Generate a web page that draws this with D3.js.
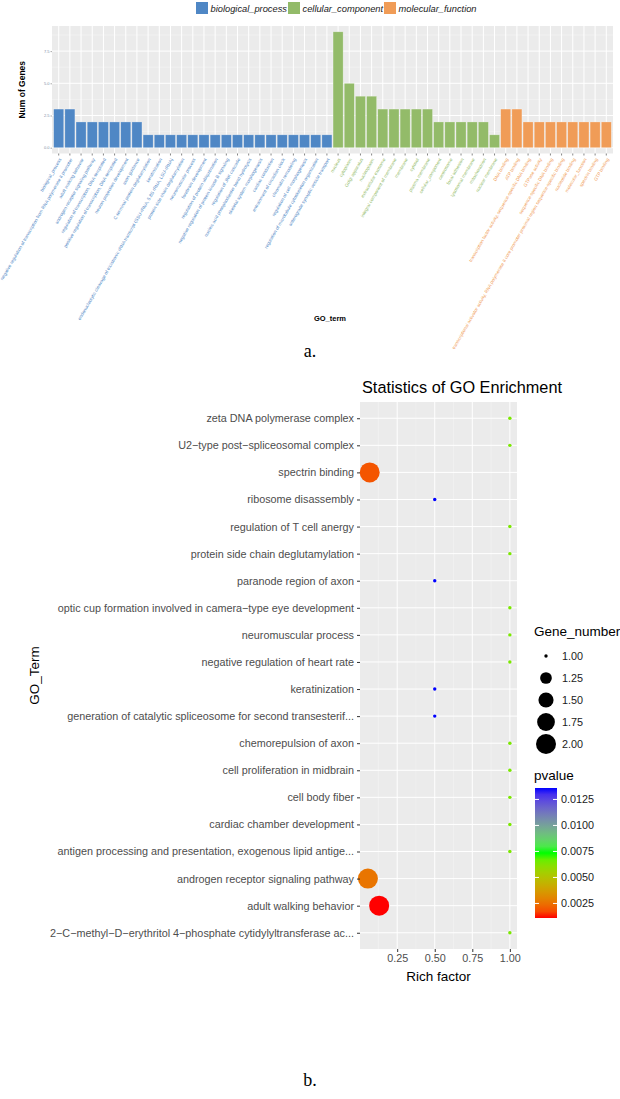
<!DOCTYPE html>
<html>
<head>
<meta charset="utf-8">
<script src="https://cdn.jsdelivr.net/npm/d3@7"></script>
<style>
  body { margin: 0; background: #fff; }
  svg { display: block; font-family: "Liberation Sans", Arial, sans-serif; }
</style>
</head>
<body>
<svg width="620" height="1099"></svg>
<script>
// ---- panel a data ----
const goTerms = [
  "biological_process",
  "negative regulation of transcription from RNA polymerase II promoter",
  "adult walking behavior",
  "androgen receptor signaling pathway",
  "regulation of transcription, DNA-templated",
  "positive regulation of transcription, DNA-templated",
  "neuron projection development",
  "axon guidance",
  "C-terminal protein deglutamylation",
  "keratinization",
  "endonucleolytic cleavage of tricistronic rRNA transcript (SSU-rRNA, 5.8S rRNA, LSU-rRNA)",
  "protein side chain deglutamylation",
  "neuromuscular process",
  "forebrain development",
  "regulation of protein ubiquitination",
  "negative regulation of protein kinase B signaling",
  "regulation of JNK cascade",
  "nucleic acid phosphodiester bond hydrolysis",
  "skeletal system morphogenesis",
  "cardiac conduction",
  "entrainment of circadian clock",
  "chromatin remodeling",
  "regulation of cell morphogenesis",
  "regulation of microtubule cytoskeleton organization",
  "anterograde synaptic vesicle transport",
  "nucleus",
  "cytoplasm",
  "Golgi apparatus",
  "nucleoplasm",
  "extracellular exosome",
  "integral component of membrane",
  "membrane",
  "cytosol",
  "plasma membrane",
  "cellular_component",
  "centrosome",
  "focal adhesion",
  "lysosomal membrane",
  "mitochondrion",
  "nuclear membrane",
  "DNA binding",
  "ATP binding",
  "transcription factor activity, sequence-specific DNA binding",
  "GTPase activity",
  "sequence-specific DNA binding",
  "transcriptional activator activity, RNA polymerase II core promoter proximal region sequence-specific binding",
  "nucleotide binding",
  "molecular_function",
  "spectrin binding",
  "GTP binding"
];
const geneCounts = [
  3, 3, 2, 2, 2, 2, 2, 2, 1, 1, 1, 1, 1, 1, 1, 1, 1, 1, 1, 1, 1, 1, 1, 1, 1,
  9, 5, 4, 4, 3, 3, 3, 3, 3, 2, 2, 2, 2, 2, 1,
  3, 3, 2, 2, 2, 2, 2, 2, 2, 2
];
const ontology = [].concat(
  Array(25).fill("biological_process"),
  Array(15).fill("cellular_component"),
  Array(10).fill("molecular_function")
);
const ontologyNames = ["biological_process", "cellular_component", "molecular_function"];
const ontologyColors = ["#4F87C5", "#93BB69", "#F09C57"];
const yTicksA = [0, 2.5, 5, 7.5];

// ---- panel b data ----
const enrichTerms = [
  "zeta DNA polymerase complex",
  "U2\u2212type post\u2212spliceosomal complex",
  "spectrin binding",
  "ribosome disassembly",
  "regulation of T cell anergy",
  "protein side chain deglutamylation",
  "paranode region of axon",
  "optic cup formation involved in camera\u2212type eye development",
  "neuromuscular process",
  "negative regulation of heart rate",
  "keratinization",
  "generation of catalytic spliceosome for second transesterif...",
  "chemorepulsion of axon",
  "cell proliferation in midbrain",
  "cell body fiber",
  "cardiac chamber development",
  "antigen processing and presentation, exogenous lipid antige...",
  "androgen receptor signaling pathway",
  "adult walking behavior",
  "2\u2212C\u2212methyl\u2212D\u2212erythritol 4\u2212phosphate cytidylyltransferase ac..."
];
const richFactor = [1, 1, 0.067, 0.5, 1, 1, 0.5, 1, 1, 1, 0.5, 0.5, 1, 1, 1, 1, 1, 0.055, 0.13, 1];
const geneNumber = [1, 1, 2, 1, 1, 1, 1, 1, 1, 1, 1, 1, 1, 1, 1, 1, 1, 2, 2, 1];
const pValue = [0.0064, 0.0064, 0.0019, 0.0136, 0.0064, 0.0064, 0.0136, 0.0064, 0.0064, 0.0064,
                0.0136, 0.0136, 0.0064, 0.0064, 0.0064, 0.0064, 0.0064, 0.0026, 0.0011, 0.0064];
const xTicksB = [0.25, 0.5, 0.75, 1.0];
const sizeBreaks = [1.00, 1.25, 1.50, 1.75, 2.00];
const pBreaks = [0.0025, 0.005, 0.0075, 0.01, 0.0125];

const svg = d3.select("svg");

// =================== panel a ===================
const pa = {left: 52, right: 613, top: 26, bottom: 153.5};
const gA = svg.append("g");

const xA = d3.scaleBand()
  .domain(goTerms)
  .range([pa.left, pa.right])
  .paddingInner(0.1)
  .paddingOuter(0.15);
const yA = d3.scaleLinear().domain([-0.45, 9.45]).range([pa.bottom, pa.top]);
const colA = d3.scaleOrdinal().domain(ontologyNames).range(ontologyColors);

gA.append("rect")
  .attr("x", pa.left).attr("y", pa.top)
  .attr("width", pa.right - pa.left).attr("height", pa.bottom - pa.top)
  .attr("fill", "#EBEBEB");

// minor + major grid
const minorA = [1.25, 3.75, 6.25, 8.75];
gA.selectAll(".minA").data(minorA).enter().append("line")
  .attr("x1", pa.left).attr("x2", pa.right)
  .attr("y1", d => yA(d)).attr("y2", d => yA(d))
  .attr("stroke", "#F5F5F5").attr("stroke-width", 0.5);
gA.selectAll(".majA").data(yTicksA).enter().append("line")
  .attr("x1", pa.left).attr("x2", pa.right)
  .attr("y1", d => yA(d)).attr("y2", d => yA(d))
  .attr("stroke", "#fff").attr("stroke-width", 1);
gA.selectAll(".vgA").data(goTerms).enter().append("line")
  .attr("x1", d => xA(d) + xA.bandwidth() / 2).attr("x2", d => xA(d) + xA.bandwidth() / 2)
  .attr("y1", pa.top).attr("y2", pa.bottom)
  .attr("stroke", "#fff").attr("stroke-width", 1);

// bars
gA.selectAll(".bar").data(goTerms).enter().append("rect")
  .attr("x", d => xA(d))
  .attr("width", xA.bandwidth())
  .attr("y", (d, i) => yA(geneCounts[i]))
  .attr("height", (d, i) => yA(0) - yA(geneCounts[i]))
  .attr("fill", (d, i) => colA(ontology[i]))
  .attr("stroke", "rgba(255,255,255,0.45)")
  .attr("stroke-width", 0.6);

// y axis
const yAxisA = gA.append("g")
  .attr("transform", `translate(${pa.left},0)`)
  .call(d3.axisLeft(yA).tickValues(yTicksA).tickFormat(d3.format(".1f")).tickSize(1.5).tickPadding(1));
yAxisA.select(".domain").remove();
yAxisA.selectAll("line").attr("stroke", "#555").attr("stroke-width", 0.5);
yAxisA.selectAll("text").attr("font-size", 4).attr("fill", "#7D8FA6").attr("font-family", "Liberation Sans, Arial, sans-serif");

// x axis ticks
const xAxisA = gA.append("g")
  .attr("transform", `translate(0,${pa.bottom})`)
  .call(d3.axisBottom(xA).tickSize(2).tickFormat(""));
xAxisA.select(".domain").remove();
xAxisA.selectAll("line").attr("stroke", "#333").attr("stroke-width", 0.6);

gA.selectAll(".xlabA").data(goTerms).enter().append("text")
  .attr("transform", d => `translate(${xA(d) + xA.bandwidth() / 2 + 1.5},${pa.bottom + 5}) rotate(-60)`)
  .attr("text-anchor", "end")
  .attr("dy", "0.35em")
  .attr("font-size", 4.6)
  .attr("fill", (d, i) => colA(ontology[i]))
  .text(d => d);

gA.append("text")
  .attr("transform", `translate(25,${(pa.top + pa.bottom) / 2}) rotate(-90)`)
  .attr("text-anchor", "middle")
  .attr("font-size", 8.5).attr("font-weight", "bold")
  .text("Num of Genes");

gA.append("text")
  .attr("x", 330).attr("y", 321)
  .attr("text-anchor", "middle")
  .attr("font-size", 7.5).attr("font-weight", "bold")
  .text("GO_term");

// legend
const legX = [196, 288, 384];
const legA = gA.selectAll(".legA").data(ontologyNames).enter().append("g")
  .attr("transform", (d, i) => `translate(${legX[i]},2)`);
legA.append("rect").attr("width", 12).attr("height", 12).attr("fill", d => colA(d));
legA.append("text")
  .attr("x", 14.5).attr("y", 9.5)
  .attr("font-size", 9.3).attr("font-style", "italic").attr("fill", "#222")
  .text(d => d);

svg.append("text")
  .attr("x", 310).attr("y", 357)
  .attr("text-anchor", "middle")
  .attr("font-family", "Liberation Serif, Times New Roman, serif")
  .attr("font-size", 18)
  .text("a.");

// =================== panel b ===================
const pb = {left: 360, right: 517, top: 402, bottom: 949};
const gB = svg.append("g");

const xB = d3.scaleLinear().domain([0.0025, 1.0475]).range([pb.left, pb.right]);
const yB = d3.scalePoint().domain(enrichTerms).range([pb.top, pb.bottom]).padding(0.6);
// ggplot-like area scaling between the smallest and largest dot
const rScale = v => 1.7 + (10 - 1.7) * Math.sqrt(v - 1);
const pExt = [0.0011, 0.0136];
const colB = d3.scaleLinear()
  .domain([pExt[0], (pExt[0] + pExt[1]) / 2, pExt[1]])
  .range(["#FF0000", "#00FF00", "#0000FF"])
  .interpolate(d3.interpolateLab);

gB.append("rect")
  .attr("x", pb.left).attr("y", pb.top)
  .attr("width", pb.right - pb.left).attr("height", pb.bottom - pb.top)
  .attr("fill", "#EBEBEB");

const minorB = [0.125, 0.375, 0.625, 0.875];
gB.selectAll(".minB").data(minorB).enter().append("line")
  .attr("x1", d => xB(d)).attr("x2", d => xB(d))
  .attr("y1", pb.top).attr("y2", pb.bottom)
  .attr("stroke", "#F5F5F5").attr("stroke-width", 0.5);
gB.selectAll(".majB").data(xTicksB).enter().append("line")
  .attr("x1", d => xB(d)).attr("x2", d => xB(d))
  .attr("y1", pb.top).attr("y2", pb.bottom)
  .attr("stroke", "#fff").attr("stroke-width", 1);
gB.selectAll(".hgB").data(enrichTerms).enter().append("line")
  .attr("x1", pb.left).attr("x2", pb.right)
  .attr("y1", d => yB(d)).attr("y2", d => yB(d))
  .attr("stroke", "#fff").attr("stroke-width", 1);

gB.selectAll(".pt").data(enrichTerms).enter().append("circle")
  .attr("cx", (d, i) => xB(richFactor[i]))
  .attr("cy", d => yB(d))
  .attr("r", (d, i) => rScale(geneNumber[i]))
  .attr("fill", (d, i) => colB(pValue[i]));

const yAxisB = gB.append("g")
  .attr("transform", `translate(${pb.left},0)`)
  .call(d3.axisLeft(yB).tickSize(3).tickPadding(3));
yAxisB.select(".domain").remove();
yAxisB.selectAll("line").attr("stroke", "#333");
yAxisB.selectAll("text").attr("font-size", 10.8).attr("fill", "#4D4D4D").attr("font-family", "Liberation Sans, Arial, sans-serif");

const xAxisB = gB.append("g")
  .attr("transform", `translate(0,${pb.bottom})`)
  .call(d3.axisBottom(xB).tickValues(xTicksB).tickFormat(d3.format(".2f")).tickSize(3).tickPadding(2));
xAxisB.select(".domain").remove();
xAxisB.selectAll("line").attr("stroke", "#333");
xAxisB.selectAll("text").attr("font-size", 10.8).attr("fill", "#4D4D4D").attr("font-family", "Liberation Sans, Arial, sans-serif");

gB.append("text")
  .attr("x", (pb.left + pb.right) / 2).attr("y", 981)
  .attr("text-anchor", "middle").attr("font-size", 13.5)
  .text("Rich factor");

gB.append("text")
  .attr("transform", `translate(39,${(pb.top + pb.bottom) / 2}) rotate(-90)`)
  .attr("text-anchor", "middle").attr("font-size", 13.5)
  .text("GO_Term");

gB.append("text")
  .attr("x", pb.left + 2).attr("y", 393)
  .attr("font-size", 16.3)
  .text("Statistics of GO Enrichment");

// size legend
gB.append("text").attr("x", 534).attr("y", 636).attr("font-size", 13.5).text("Gene_number");
const sizeLeg = gB.selectAll(".sl").data(sizeBreaks).enter().append("g")
  .attr("transform", (d, i) => `translate(546,${656 + i * 22})`);
sizeLeg.append("circle").attr("r", d => rScale(d)).attr("fill", "#000");
sizeLeg.append("text").attr("x", 16).attr("dy", "0.35em").attr("font-size", 10.8).attr("fill", "#1a1a1a")
  .text(d => d3.format(".2f")(d));

// color bar legend
gB.append("text").attr("x", 534).attr("y", 780).attr("font-size", 13.5).text("pvalue");
const cb = {x: 535, y: 788, w: 22, h: 130};
const cbScale = d3.scaleLinear().domain(pExt).range([cb.y + cb.h, cb.y]);
const grad = svg.append("defs").append("linearGradient")
  .attr("id", "pgrad").attr("x1", 0).attr("x2", 0).attr("y1", 1).attr("y2", 0);
d3.range(0, 1.0001, 0.05).forEach(t => {
  grad.append("stop").attr("offset", t).attr("stop-color", colB(pExt[0] + t * (pExt[1] - pExt[0])));
});
gB.append("rect").attr("x", cb.x).attr("y", cb.y).attr("width", cb.w).attr("height", cb.h).attr("fill", "url(#pgrad)");
pBreaks.forEach(v => {
  gB.append("line").attr("x1", cb.x).attr("x2", cb.x + 4).attr("y1", cbScale(v)).attr("y2", cbScale(v)).attr("stroke", "#fff");
  gB.append("line").attr("x1", cb.x + cb.w - 4).attr("x2", cb.x + cb.w).attr("y1", cbScale(v)).attr("y2", cbScale(v)).attr("stroke", "#fff");
  gB.append("text").attr("x", cb.x + cb.w + 4).attr("y", cbScale(v)).attr("dy", "0.35em")
    .attr("font-size", 10.8).attr("fill", "#1a1a1a").text(d3.format(".4f")(v));
});

svg.append("text")
  .attr("x", 310).attr("y", 1086)
  .attr("text-anchor", "middle")
  .attr("font-family", "Liberation Serif, Times New Roman, serif")
  .attr("font-size", 18)
  .text("b.");
</script>
</body>
</html>
